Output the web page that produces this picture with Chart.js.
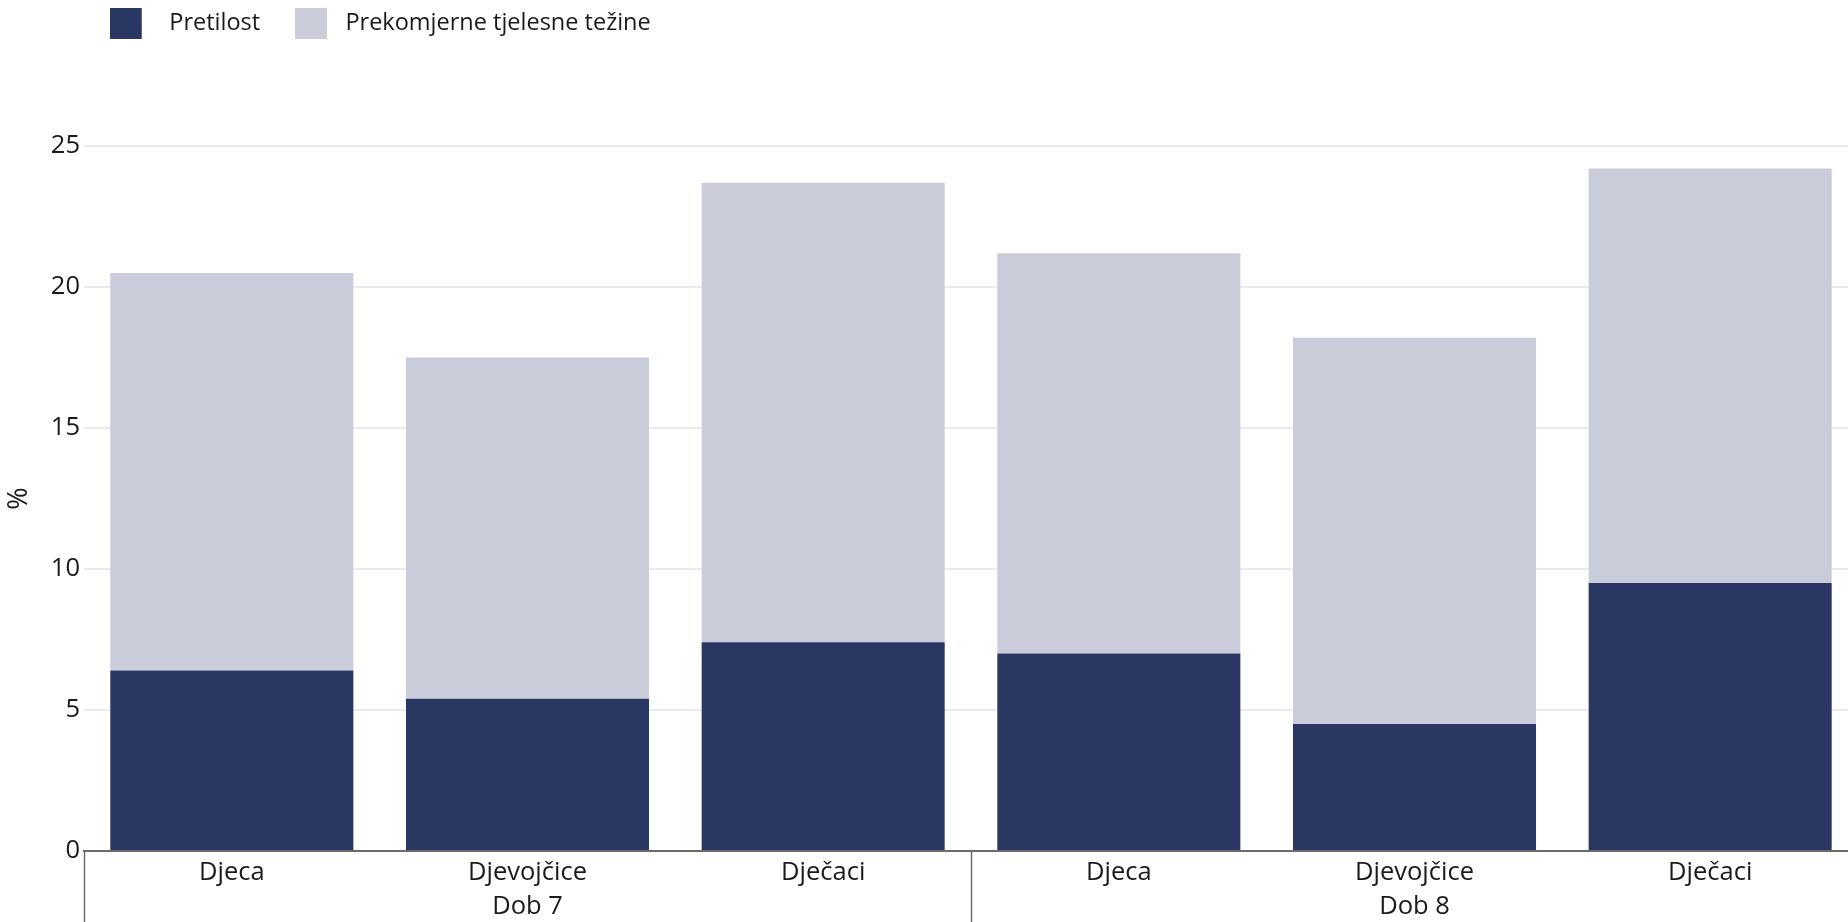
<!DOCTYPE html>
<html><head><meta charset="utf-8">
<script src="https://cdn.jsdelivr.net/npm/chart.js@4"></script>
<style>html,body{margin:0;padding:0;background:#fff;overflow:hidden}canvas{display:block}</style>
</head><body>
<canvas id="c" width="1858" height="922"></canvas>
<script>
const categories = ['Djeca','Djevojčice','Dječaci','Djeca','Djevojčice','Dječaci'];
const groups = ['Dob 7','Dob 8'];
const seriesNames = ['Pretilost','Prekomjerne tjelesne težine'];
const pretilost = [6.4, 5.4, 7.4, 7.0, 4.5, 9.5];
const prekomjerne = [14.1, 12.1, 16.3, 14.2, 13.7, 14.7];
const yMin = 0, yMax = 25, yStep = 5;

const colors = ['#2a3763', '#cacdd9'];
const FONT = "'Open Sans', sans-serif";
const TXT = '#1a1a1a';

// legend swatch images: 32x31 square, placed inside a wider transparent canvas
function legendSwatch(color, w) {
  const c = document.createElement('canvas');
  c.width = w; c.height = 31;
  const g = c.getContext('2d');
  g.fillStyle = color;
  g.fillRect(0, 0, 32, 31);
  return c;
}
const swatches = [legendSwatch(colors[0], 68), legendSwatch(colors[1], 50)];

const legendHeight = {
  id: 'legendHeight',
  beforeInit(chart) {
    const legend = chart.legend;
    if (!legend) return;
    const fit = legend.fit;
    legend.fit = function () { fit.call(this); this.height = 180; };
  }
};

const groupSeparators = {
  id: 'groupSeparators',
  afterDraw(chart) {
    const s = chart.scales.x2, ctx = chart.ctx;
    ctx.save();
    ctx.strokeStyle = '#6b6b6b';
    ctx.lineWidth = 1.5;
    for (let i = 0; i <= groups.length; i++) {
      const px = Math.round(s.getPixelForValue(i - 0.5)) + 0.5;
      ctx.beginPath();
      ctx.moveTo(px, chart.chartArea.bottom);
      ctx.lineTo(px, chart.height);
      ctx.stroke();
    }
    ctx.restore();
  }
};

new Chart(document.getElementById('c'), {
  type: 'bar',
  data: {
    labels: categories,
    datasets: [
      { label: seriesNames[0], data: pretilost, backgroundColor: colors[0], borderWidth: 0 },
      { label: seriesNames[1], data: prekomjerne, backgroundColor: colors[1], borderWidth: 0 }
    ]
  },
  options: {
    responsive: false,
    animation: false,
    devicePixelRatio: 1,
    layout: { padding: { top: -34, right: 0, left: 0, bottom: 0 } },
    datasets: { bar: { categoryPercentage: 1, barPercentage: 0.822 } },
    plugins: {
      tooltip: { enabled: false },
      legend: {
        position: 'top', align: 'start', fullSize: false,
        labels: {
          usePointStyle: true, pointStyleWidth: 27.5, padding: 46,
          color: TXT, font: { family: FONT, size: 23.5 },
          generateLabels(chart) {
            const items = Chart.defaults.plugins.legend.labels.generateLabels(chart);
            items.forEach((it, i) => { it.pointStyle = swatches[i]; });
            return items;
          }
        }
      }
    },
    scales: {
      x: {
        stacked: true,
        grid: { display: true, drawOnChartArea: false, drawTicks: false },
        border: { display: true, color: '#6b6b6b', width: 2 },
        ticks: { color: TXT, font: { family: FONT, size: 25.5 }, padding: 6, maxRotation: 0 },
        afterFit(s) { s.height = 35; }
      },
      x2: {
        type: 'category', labels: groups, position: 'bottom', offset: true,
        grid: { display: false, drawTicks: false },
        border: { display: false },
        ticks: { color: TXT, font: { family: FONT, size: 25.5 }, padding: 5, maxRotation: 0 },
        afterFit(s) { s.height = 36; }
      },
      y: {
        stacked: true, min: yMin, max: yMax,
        ticks: { stepSize: yStep, color: TXT, font: { family: FONT, size: 25.5 }, padding: 4 },
        grid: { color: '#ebebeb', lineWidth: 2, drawTicks: false },
        border: { display: false },
        title: { display: true, text: '%', color: TXT, font: { family: FONT, size: 27 }, padding: { top: 3, bottom: 0 } },
        afterFit(s) { s.width = 84; }
      }
    }
  },
  plugins: [legendHeight, groupSeparators]
});
</script>
</body></html>
